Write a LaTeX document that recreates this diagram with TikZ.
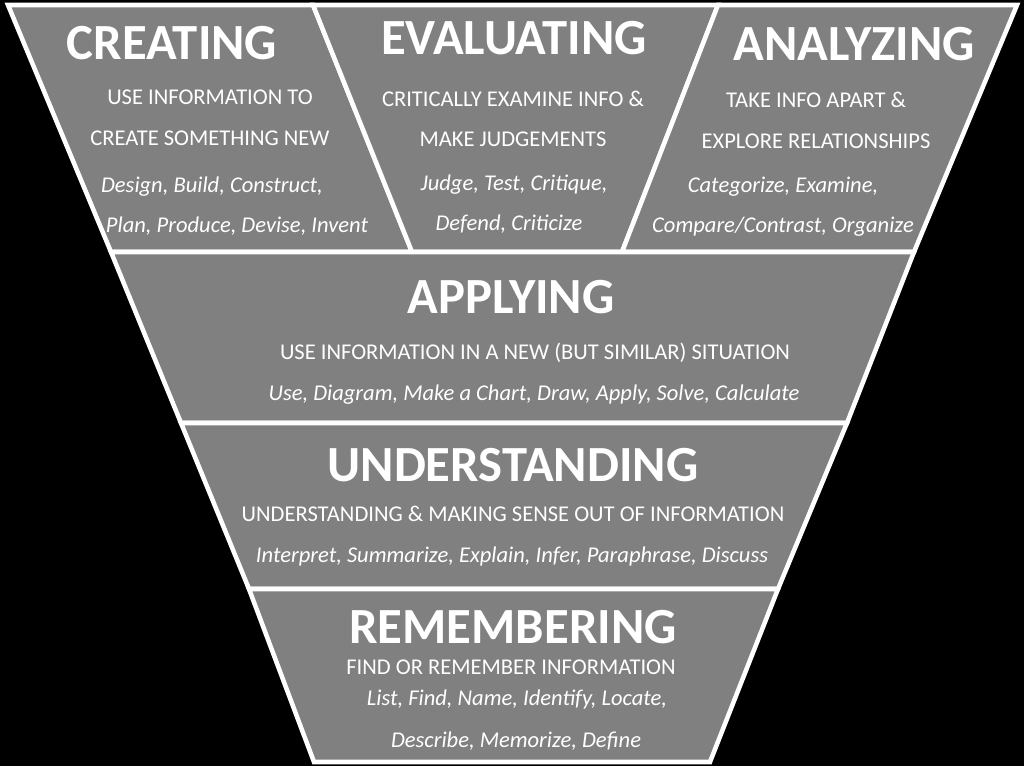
\documentclass[tikz,border=0pt]{standalone}
\usepackage{fontspec}
\setmainfont{Carlito}
\usepackage{xcolor}
\usepackage{tikz}
\usetikzlibrary{positioning, calc}
\definecolor{tiergray}{RGB}{128,128,128}
\tikzset{
  tier/.style={fill=tiergray, draw=white, line width=3.4pt, line join=miter},
  ttl/.style={text=white, anchor=base, inner sep=0pt,
              font=\fontsize{38}{42}\selectfont\bfseries},
  dsc/.style={text=white, anchor=base, inner sep=0pt,
              font=\fontsize{16.9}{20}\selectfont},
  vrb/.style={dsc, font=\fontsize{16.9}{20}\selectfont\itshape}
}
\begin{document}
\begin{tikzpicture}[x=0.75pt, y=-0.75pt]
  \fill[black] (0,0) rectangle (1024,766);
  \useasboundingbox (0,0) rectangle (1024,766);
  % funnel corners
  \coordinate (l0) at (8,5);     \coordinate (r0) at (1017,5);
  \coordinate (s0) at (313,5);   \coordinate (t0) at (718,5);
  \coordinate (l1) at (111,252); \coordinate (r1) at (914,252);
  \coordinate (s1) at (412,252); \coordinate (t1) at (622,252);
  \coordinate (l2) at (181,423); \coordinate (r2) at (847,423);
  \coordinate (l3) at (249,589); \coordinate (r3) at (778,589);
  \coordinate (l4) at (314,762); \coordinate (r4) at (710,762);
  % tiers
  \draw[tier] (l0) -- (s0) -- (s1) -- (l1) -- cycle;
  \draw[tier] (s0) -- (t0) -- (t1) -- (s1) -- cycle;
  \draw[tier] (t0) -- (r0) -- (r1) -- (t1) -- cycle;
  \draw[tier] (l1) -- (r1) -- (r2) -- (l2) -- cycle;
  \draw[tier] (l2) -- (r2) -- (r3) -- (l3) -- cycle;
  \draw[tier] (l3) -- (r3) -- (r4) -- (l4) -- cycle;
  % creating
  \node[ttl] (creT) at (172,60) {CREATING};
  \node[dsc] (creD1) at (210,105) {USE INFORMATION TO};
  \node[dsc] (creD2) at (210,146) {CREATE SOMETHING NEW};
  \node[vrb] (creV1) at (212,193) {Design, Build, Construct,};
  \node[vrb] (creV2) at (237,233) {Plan, Produce, Devise, Invent};
  % evaluating
  \node[ttl] (evaT) at (514,55) {EVALUATING};
  \node[dsc] (evaD1) at (513,107) {CRITICALLY EXAMINE INFO \&};
  \node[dsc] (evaD2) at (513,147) {MAKE JUDGEMENTS};
  \node[vrb] (evaV1) at (514,191) {Judge, Test, Critique,};
  \node[vrb] (evaV2) at (509,231) {Defend, Criticize};
  % analyzing
  \node[ttl] (anaT) at (854,61) {ANALYZING};
  \node[dsc] (anaD1) at (816,108) {TAKE INFO APART \&};
  \node[dsc] (anaD2) at (816,149) {EXPLORE RELATIONSHIPS};
  \node[vrb] (anaV1) at (783,193) {Categorize, Examine,};
  \node[vrb] (anaV2) at (783,233) {Compare/Contrast, Organize};
  % applying
  \node[ttl] (appT) at (511,314) {APPLYING};
  \node[dsc] (appD) at (535,360) {USE INFORMATION IN A NEW (BUT SIMILAR) SITUATION};
  \node[vrb] (appV) at (534,401) {Use, Diagram, Make a Chart, Draw, Apply, Solve, Calculate};
  % understanding
  \node[ttl] (undT) at (513,481) {UNDERSTANDING};
  \node[dsc] (undD) at (513,521) {UNDERSTANDING \& MAKING SENSE OUT OF INFORMATION};
  \node[vrb] (undV) at (512,562) {Interpret, Summarize, Explain, Infer, Paraphrase, Discuss};
  % remembering
  \node[ttl] (remT) at (513,643) {REMEMBERING};
  \node[dsc] (remD) at (511,674) {FIND OR REMEMBER INFORMATION};
  \node[vrb] (remV1) at (517,705) {List, Find, Name, Identify, Locate,};
  \node[vrb] (remV2) at (516,747) {Describe, Memorize, Define};
\end{tikzpicture}
\end{document}
